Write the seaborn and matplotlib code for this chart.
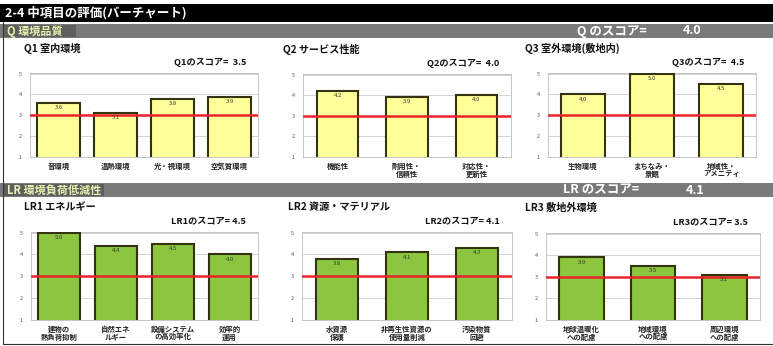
import matplotlib
matplotlib.use("Agg")
import matplotlib.pyplot as plt
import pandas as pd
import seaborn as sns
from matplotlib.patches import Rectangle

sns.set_theme(style="white")
plt.rcParams['font.family'] = ['Noto Sans CJK JP', 'DejaVu Sans']

W, H = 773, 346

# data
q1_cats = ["音環境", "温熱環境", "光・視環境", "空気質環境"]
q1_vals = [3.6, 3.1, 3.8, 3.9]
q2_cats = ["機能性", "耐用性・\n信頼性", "対応性・\n更新性"]
q2_vals = [4.2, 3.9, 4.0]
q3_cats = ["生物環境", "まちなみ・\n景観", "地域性・\nアメニティ"]
q3_vals = [4.0, 5.0, 4.5]
lr1_cats = ["建物の\n熱負荷抑制", "自然エネ\nルギー", "設備システム\nの高効率化", "効率的\n運用"]
lr1_vals = [5.0, 4.4, 4.5, 4.0]
lr2_cats = ["水資源\n保護", "非再生性資源の\n使用量削減", "汚染物質\n回避"]
lr2_vals = [3.8, 4.1, 4.3]
lr3_cats = ["地球温暖化\nへの配慮", "地域環境\nへの配慮", "周辺環境\nへの配慮"]
lr3_vals = [3.9, 3.5, 3.1]

panel_titles = ["Q1 室内環境", "Q2 サービス性能", "Q3 室外環境(敷地内)",
                "LR1 エネルギー", "LR2 資源・マテリアル", "LR3 敷地外環境"]
panel_scores = ["Q1のスコア=  3.5", "Q2のスコア=  4.0", "Q3のスコア=  4.5",
                "LR1のスコア= 4.5", "LR2のスコア= 4.1", "LR3のスコア= 3.5"]
q_score = 4.0
lr_score = 4.1

fig = plt.figure(figsize=(W / 100, H / 100), dpi=100)
fig.patch.set_facecolor("white")


def fx(x):
    return x / W


def fy(y):
    return 1 - y / H


def band(y0, y1, color):
    fig.patches.append(Rectangle((0, fy(y1)), 1, (y1 - y0) / H, transform=fig.transFigure,
                                 facecolor=color, edgecolor="none", zorder=0))


# header bands
band(4, 22, "black")
fig.text(fx(5), fy(13), "2-4 中項目の評価(バーチャート)", color="white", fontsize=9,
         fontweight="bold", va="center")

band(24, 38, "#7a7a7a")
fig.patches.append(Rectangle((fx(4), fy(37)), fx(72), 12 / H, transform=fig.transFigure,
                             facecolor="#5e5e5e", edgecolor="none", zorder=1))
fig.text(fx(7), fy(31), "Q 環境品質", color="#e6f2b0", fontsize=8, fontweight="bold", va="center")
fig.text(fx(577), fy(31), "Q のスコア=", color="white", fontsize=9, fontweight="bold", va="center")
fig.text(fx(683), fy(31), f"{q_score:.1f}", color="white", fontsize=9, fontweight="bold", va="center")

band(183, 197, "#7a7a7a")
fig.patches.append(Rectangle((fx(4), fy(196)), fx(100), 12 / H, transform=fig.transFigure,
                             facecolor="#5e5e5e", edgecolor="none", zorder=1))
fig.text(fx(7), fy(190), "LR 環境負荷低減性", color="#e6f2b0", fontsize=8, fontweight="bold", va="center")
fig.text(fx(563), fy(190), "LR のスコア=", color="white", fontsize=9, fontweight="bold", va="center")
fig.text(fx(686), fy(190), f"{lr_score:.1f}", color="white", fontsize=9, fontweight="bold", va="center")

# outer frame lines
fig.add_artist(plt.Line2D([fx(3), fx(3)], [fy(22), fy(344)], transform=fig.transFigure,
                          color="#333333", lw=0.8))
fig.add_artist(plt.Line2D([fx(3), fx(773)], [fy(344), fy(344)], transform=fig.transFigure,
                          color="#333333", lw=0.8))

panels = [
    (q1_cats, q1_vals, (30, 73, 258, 157), 24, "#ffff99", 0.74),
    (q2_cats, q2_vals, (303, 74, 511, 157), 283, "#ffff99", 0.6),
    (q3_cats, q3_vals, (548, 73, 756, 157), 525, "#ffff99", 0.63),
    (lr1_cats, lr1_vals, (31, 232, 258, 320), 24, "#8cc63f", 0.74),
    (lr2_cats, lr2_vals, (302, 232, 512, 320), 288, "#8cc63f", 0.6),
    (lr3_cats, lr3_vals, (546, 233, 760, 320), 525, "#8cc63f", 0.63),
]

for i, (cats, vals, box, tx, color, width) in enumerate(panels):
    x0, y0, x1, y1 = box
    ax = fig.add_axes([fx(x0), fy(y1), (x1 - x0) / W, (y1 - y0) / H])
    df = pd.DataFrame({"item": cats, "score": vals})
    sns.barplot(data=df, x="item", y="score", ax=ax, color=color, saturation=1,
                edgecolor="#333310", linewidth=1.5, width=width, zorder=3)
    ax.set_ylim(1, 5.03)
    ax.set_yticks([1, 2, 3, 4, 5])
    ax.set_yticklabels(["1", "2", "3", "4", "5"], fontsize=4, color="#555555")
    ax.tick_params(axis="y", length=0, pad=6)
    ax.tick_params(axis="x", length=0, pad=4, labelsize=5.3, labelcolor="#222222")
    for lab in ax.get_xticklabels():
        lab.set_fontweight("bold")
        lab.set_linespacing(1.1)
    ax.set_xlabel("")
    ax.set_ylabel("")
    for yv in [2, 4, 5]:
        ax.axhline(yv, color="#cccccc", lw=0.6, zorder=1)
    ax.axhline(3, color="#e8232a", lw=1.8, zorder=4)
    for s in ax.spines.values():
        s.set_color("#bbbbbb")
        s.set_linewidth(0.6)
    for p, v in zip(ax.patches, vals):
        ax.text(p.get_x() + p.get_width() / 2, v - 0.22, f"{v:.1f}", ha="center", va="center",
                fontsize=4.3, color="#333333", zorder=5)
    fig.text(fx(tx), fy(y0 - 25), panel_titles[i], fontsize=7.3, fontweight="bold",
             color="#111111", va="center")
    fig.text(fx(x1 - 12), fy(y0 - 11), panel_scores[i], fontsize=6.6, fontweight="bold",
             color="#111111", va="center", ha="right")

fig.savefig("out.png", dpi=100)
